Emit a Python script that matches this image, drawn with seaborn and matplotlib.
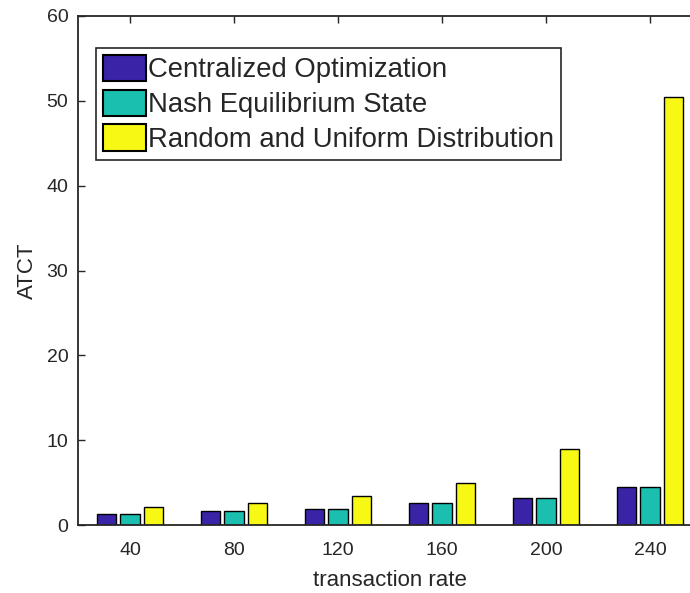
import numpy as np
import pandas as pd
import matplotlib
matplotlib.use("Agg")
import matplotlib.pyplot as plt
import seaborn as sns

rates = ["40", "80", "120", "160", "200", "240"]
centralized = [1.3, 1.7, 1.9, 2.6, 3.2, 4.5]
nash = [1.25, 1.7, 1.9, 2.6, 3.2, 4.5]
random_uniform = [2.1, 2.65, 3.4, 4.9, 8.9, 50.5]
methods = ["Centralized Optimization", "Nash Equilibrium State",
           "Random and Uniform Distribution"]
colors = ["#3b23a8", "#1bbfb0", "#f8f815"]

df = pd.DataFrame({
    "rate": rates * 3,
    "value": centralized + nash + random_uniform,
    "method": [methods[0]] * 6 + [methods[1]] * 6 + [methods[2]] * 6,
})

sns.set_style("white")
plt.rcParams["font.family"] = ["Liberation Sans", "DejaVu Sans"]

fig = plt.figure(figsize=(6.9, 5.93), dpi=100)
ax = fig.add_axes([78 / 690, 68 / 593, 624 / 690, 509 / 593])

sns.barplot(data=df, x="rate", y="value", hue="method", order=rates,
            hue_order=methods, palette=colors, width=0.69, gap=0.2,
            edgecolor="black", linewidth=1.0, saturation=1, ax=ax)

ax.set_xlim(-0.5, 5.5)
ax.set_ylim(0, 60)
ax.set_yticks(np.arange(0, 61, 10))

for s in ax.spines.values():
    s.set_color("#262626")
    s.set_linewidth(1.3)
    s.set_visible(True)

ax.tick_params(axis="both", direction="in", length=5, width=1.0,
               color="#262626", labelsize=14, labelcolor="#262626",
               top=True, right=True, bottom=True, left=True)
ax.tick_params(axis="x", pad=12)
ax.tick_params(axis="y", pad=7)

ax.set_xlabel("transaction rate", fontsize=16, color="#262626", labelpad=8)
ax.set_ylabel("ATCT", fontsize=16, color="#262626", labelpad=6)

handles, labels = ax.get_legend_handles_labels()
leg = ax.legend(handles, labels, loc="upper left",
                bbox_to_anchor=(0.029, 0.937), borderaxespad=0,
                fontsize=19.8, frameon=True, fancybox=False,
                edgecolor="#262626", framealpha=1,
                handlelength=1.55, handleheight=1.1, handletextpad=0.1,
                labelspacing=0.22, borderpad=0.25)
leg.get_frame().set_linewidth(1.2)
for h in leg.legend_handles:
    h.set_edgecolor("black")
    h.set_linewidth(1.5)

fig.savefig("out.png", dpi=100)
